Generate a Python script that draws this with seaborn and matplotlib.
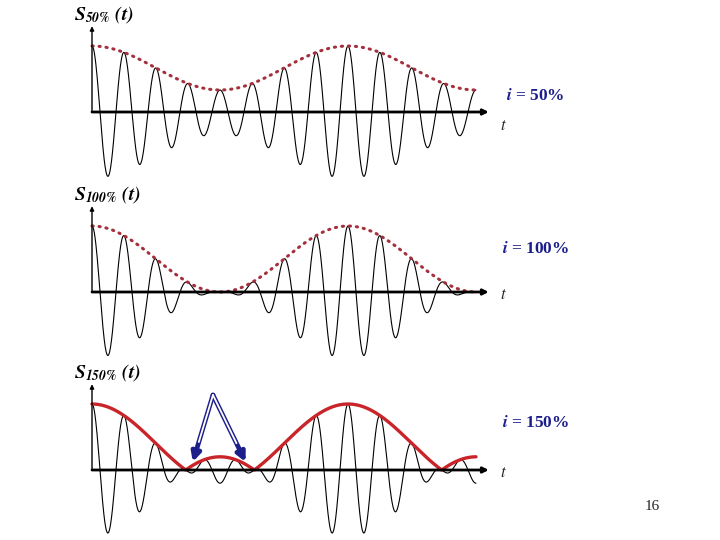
import numpy as np
import pandas as pd
import matplotlib.pyplot as plt
import seaborn as sns

# values
MOD_INDEX = [0.5, 1.0, 1.5]            # i = 50%, 100%, 150%
INDEX_LABELS = ['50%', '100%', '150%']
CARRIER_CYCLES = 12                    # carrier periods drawn
CYCLES_PER_ENVELOPE = 8                # carrier periods per modulation period
SAMPLES = 1200

sns.set_theme(style='white')
plt.rcParams['mathtext.fontset'] = 'stix'
plt.rcParams['font.family'] = ['Liberation Serif', 'DejaVu Serif']

W, H = 720, 540
fig = plt.figure(figsize=(7.2, 5.4), dpi=100)

PX_X = 32.0      # px per carrier period
PX_Y = 66.0      # px per unit amplitude (normalised)
X0 = 92          # px of t=0
XLIM = (-0.5, 13.0)
YLIM = (-1.05, 1.4)
baselines = [112, 292, 470]

env_colors = ['#a5303c', '#a5303c', '#c8242a']
navy = '#1c1f8a'

t = np.linspace(0, CARRIER_CYCLES, SAMPLES)

for k, m in enumerate(MOD_INDEX):
    base = baselines[k]
    left = X0 + XLIM[0] * PX_X
    width = (XLIM[1] - XLIM[0]) * PX_X
    top = base - YLIM[1] * PX_Y
    height = (YLIM[1] - YLIM[0]) * PX_Y
    ax = fig.add_axes([left / W, 1 - (top + height) / H, width / W, height / H])
    ax.set_xlim(*XLIM)
    ax.set_ylim(*YLIM)
    ax.axis('off')
    ax.patch.set_alpha(0)

    mod = 1 + m * np.cos(2 * np.pi * t / CYCLES_PER_ENVELOPE)
    df = pd.DataFrame({
        't': t,
        's': mod * np.cos(2 * np.pi * t) / (1 + m),
        'env': np.abs(mod) / (1 + m),
    })

    sns.lineplot(data=df, x='t', y='s', ax=ax, color='black', lw=0.8, zorder=2)
    if m < 1.2:
        sns.lineplot(data=df, x='t', y='env', ax=ax, color=env_colors[k], lw=2.2,
                     linestyle=(0, (0.4, 1.9)), dash_capstyle='round', zorder=3)
    else:
        sns.lineplot(data=df, x='t', y='env', ax=ax, color=env_colors[k], lw=2.4, zorder=3)

    # axes with arrows
    ax.annotate('', xy=(12.4, 0), xytext=(0, 0),
                arrowprops=dict(arrowstyle='-|>', lw=2, color='black', mutation_scale=8,
                                shrinkA=0, shrinkB=0), zorder=4)
    ax.annotate('', xy=(0, 1.3), xytext=(0, 0),
                arrowprops=dict(arrowstyle='-|>', lw=1, color='black', mutation_scale=6,
                                shrinkA=0, shrinkB=0), zorder=4)

    ax.text(-0.55, 1.47, r'$\mathbfit{S}_{\mathbfit{' + INDEX_LABELS[k].replace('%', r'\%') + r'}}\ \mathbfit{(t)}$',
            fontsize=14, ha='left', va='center', color='black')
    ty = -0.21 if k == 0 else -0.04
    ax.text(12.75, ty, r'$\mathit{t}$', fontsize=12, ha='left', va='center')
    iy = [0.24, 0.65, 0.71][k]
    ax.text(13.85, iy, r'$\mathbfit{i}$' + ' = ' + INDEX_LABELS[k], fontsize=12.5, fontweight='bold',
            color=navy, ha='center', va='center')

    if m > 1:
        # arrows pointing to the envelope phase flip
        apex = (3.78, (base - 395) / PX_Y)
        for tip in [(3.15, (base - 462) / PX_Y), (4.8, (base - 462) / PX_Y)]:
            ax.annotate('', xy=tip, xytext=apex,
                        arrowprops=dict(arrowstyle='-|>', lw=3.4, color=navy, mutation_scale=13,
                                        shrinkA=0, shrinkB=0), zorder=5)
            ax.annotate('', xy=tip, xytext=apex,
                        arrowprops=dict(arrowstyle='-', lw=1.3, color='white',
                                        shrinkA=0, shrinkB=15), zorder=6)

fig.text(652 / W, 1 - 506 / H, '16', fontsize=11, ha='center', va='center')

plt.savefig('out.png', dpi=100)
